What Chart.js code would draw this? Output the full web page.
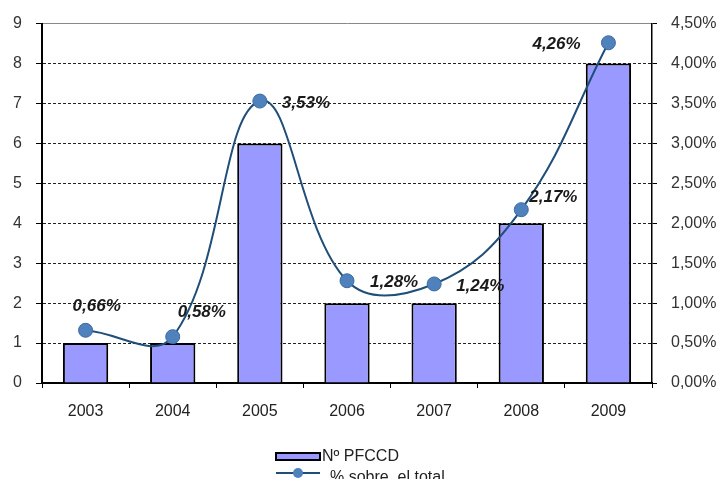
<!DOCTYPE html>
<html>
<head>
<meta charset="utf-8">
<script src="https://cdn.jsdelivr.net/npm/chart.js@4.4.1/dist/chart.umd.min.js"></script>
<style>
  html, body { margin: 0; padding: 0; background: #fff; }
  #wrap { width: 724px; height: 479px; }
</style>
</head>
<body>
<div id="wrap"><canvas id="chart" width="724" height="479"></canvas></div>
<script>
const years = ['2003', '2004', '2005', '2006', '2007', '2008', '2009'];
const pfccd = [1, 1, 6, 2, 2, 4, 8];            // Nº PFCCD (left axis)
const pctTotal = [0.66, 0.58, 3.53, 1.28, 1.24, 2.17, 4.26]; // % sobre el total (right axis)

const FONT = '"Liberation Sans", Arial, sans-serif';
const fmtPct = (v) => v.toFixed(2).replace('.', ',') + '%';

// labels next to the line points, offset per point like in the original
const pointLabels = {
  id: 'pointLabels',
  afterDatasetsDraw(chart, args, opts) {
    const ctx = chart.ctx;
    const meta = chart.getDatasetMeta(0);
    ctx.save();
    ctx.font = 'italic bold 17px ' + FONT;
    ctx.fillStyle = '#1a1a1a';
    ctx.textAlign = 'left';
    ctx.textBaseline = 'middle';
    meta.data.forEach((pt, i) => {
      const off = opts.offsets[i];
      ctx.fillText(fmtPct(pctTotal[i]), pt.x + off[0], pt.y + off[1]);
    });
    ctx.restore();
  }
};

// stacked legend at the bottom
const stackedLegend = {
  id: 'stackedLegend',
  afterDraw(chart) {
    const ctx = chart.ctx;
    const bar = chart.data.datasets[1];
    const line = chart.data.datasets[0];
    ctx.save();
    ctx.font = '16px ' + FONT;
    ctx.textBaseline = 'middle';
    ctx.fillStyle = bar.backgroundColor;
    ctx.fillRect(276, 453, 44, 7);
    ctx.strokeStyle = '#000';
    ctx.lineWidth = 2;
    ctx.strokeRect(276, 453, 44, 7);
    ctx.fillStyle = '#222';
    ctx.fillText(bar.label, 322, 457);

    ctx.strokeStyle = line.borderColor;
    ctx.lineWidth = 2;
    ctx.beginPath();
    ctx.moveTo(276, 473);
    ctx.lineTo(320, 473);
    ctx.stroke();
    ctx.beginPath();
    ctx.arc(298, 473, 5, 0, Math.PI * 2);
    ctx.fillStyle = line.pointBackgroundColor;
    ctx.fill();
    ctx.fillStyle = '#222';
    ctx.fillText(line.label, 330, 478);
    ctx.restore();
  }
};

new Chart(document.getElementById('chart'), {
  data: {
    labels: years,
    datasets: [
      {
        type: 'line',
        label: '% sobre  el total',
        data: pctTotal,
        yAxisID: 'y1',
        borderColor: '#1F4E79',
        borderWidth: 2,
        tension: 0.4,
        pointRadius: 7,
        pointBackgroundColor: '#4F81BD',
        pointBorderColor: '#3B6BA0',
        pointBorderWidth: 1,
        order: 0,
      },
      {
        type: 'bar',
        label: 'Nº PFCCD',
        data: pfccd,
        yAxisID: 'y',
        backgroundColor: '#9999FF',
        borderColor: '#000',
        borderWidth: 2,
        barPercentage: 0.52,
        categoryPercentage: 1,
        order: 1,
      },
    ],
  },
  options: {
    responsive: false,
    animation: false,
    layout: { padding: { top: 18, bottom: 51, left: 0, right: 0 } },
    plugins: {
      legend: { display: false },
      tooltip: { enabled: false },
      pointLabels: {
        offsets: [[-13, -24], [5, -24], [22, 2], [23, 2], [22, 2], [8, -12], [-76, 2]],
      },
    },
    scales: {
      x: {
        grid: { display: true, drawOnChartArea: false, drawTicks: true, tickLength: 5, color: '#000', offset: true },
        border: { display: true, color: '#000', width: 2 },
        ticks: { color: '#222', font: { family: FONT, size: 16 }, padding: 14 },
        afterFit: (s) => { s.height = 45; },
      },
      y: {
        position: 'left',
        min: 0,
        max: 9,
        ticks: { stepSize: 1, color: '#333', font: { family: FONT, size: 16 }, padding: 14 },
        grid: {
          color: (c) => (c.tick && c.tick.value === 9 ? '#888' : '#222'),
          lineWidth: 1,
          tickLength: 6,
          tickColor: '#000',
          tickBorderDash: [],
        },
        border: { color: '#000', width: 2, dash: (c) => (c.tick && c.tick.value === 9 ? [] : [3, 2]) },
        afterFit: (s) => { s.width = 42; },
      },
      y1: {
        position: 'right',
        min: 0,
        max: 4.5,
        ticks: { stepSize: 0.5, color: '#333', font: { family: FONT, size: 16 }, padding: 14, callback: (v) => fmtPct(v) },
        grid: { drawOnChartArea: false, tickLength: 5, color: '#000' },
        border: { color: '#000', width: 1.5 },
        afterFit: (s) => { s.width = 72; },
      },
    },
  },
  plugins: [pointLabels, stackedLegend],
});
</script>
</body>
</html>
